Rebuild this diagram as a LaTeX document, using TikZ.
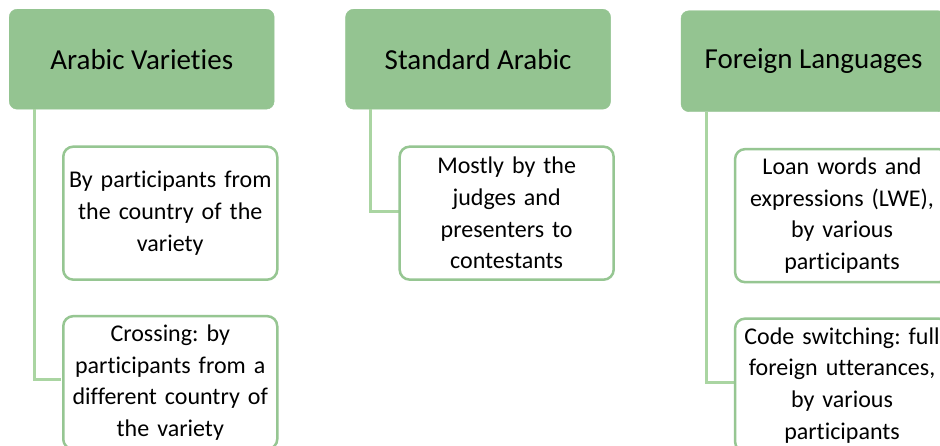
\documentclass[tikz,border=0pt]{standalone}
\usepackage{fontspec}
\setmainfont{Carlito}[Ligatures={NoCommon}]
\usepackage{tikz}
\usetikzlibrary{positioning}
\frenchspacing

\definecolor{hdrgreen}{RGB}{148,196,145}
\definecolor{linkgreen}{RGB}{170,213,162}
\definecolor{boxgreen}{RGB}{150,198,146}

\begin{document}
\begin{tikzpicture}
    [ x = 1pt, y = -1pt
    , header/.style =
      { fill=hdrgreen, draw=hdrgreen, rounded corners=8pt, minimum width=265pt
      , minimum height=100pt, inner sep=0pt, font=\fontsize{29}{35}\selectfont }
    , leaf/.style =
      { draw=boxgreen, line width=2.5pt, fill=white, rounded corners=10pt
      , minimum width=214pt, minimum height=133pt, text width=206pt, inner sep=0pt
      , align=center, font=\fontsize{24}{31.7}\selectfont }
    , link/.style =
      { draw=linkgreen, line width=3pt }
    ]
    \useasboundingbox [fill=white] (0,0) rectangle (940,445);

    \node [header, anchor=north west] (arabic) at (9,9) {Arabic Varieties};
    \node [header] (standard) [right=71pt of arabic] {Standard Arabic};
    \node [header, minimum height=101pt] (foreign) [right=70pt of standard, yshift=-2pt] {Foreign Languages};

    \draw [link] ([xshift=25pt]arabic.south west) |- (61,379);
    \draw [link] ([xshift=25pt]standard.south west) |- (399,211);
    \draw [link] ([xshift=26pt]foreign.south west) |- (734,382);

    \node [leaf, below=36pt of arabic.south west, anchor=north west, xshift=53pt] (native)
      {By participants from\\ the country of the\\ variety};
    \node [leaf] (crossing) [below=34pt of native]
      {Crossing: by\\ participants from a\\ different country of\\ the variety};
    \node [leaf, below=36pt of standard.south west, anchor=north west, xshift=53pt] (judges)
      {Mostly by the\\ judges and\\ presenters to\\ contestants};
    \node [leaf, below=36pt of foreign.south west, anchor=north west, xshift=53pt] (loan)
      {Loan words and\\ expressions (LWE),\\ by various\\ participants};
    \node [leaf] (switching) [below=34pt of loan]
      {Code switching: full\\ foreign utterances,\\ by various\\ participants};
\end{tikzpicture}
\end{document}
